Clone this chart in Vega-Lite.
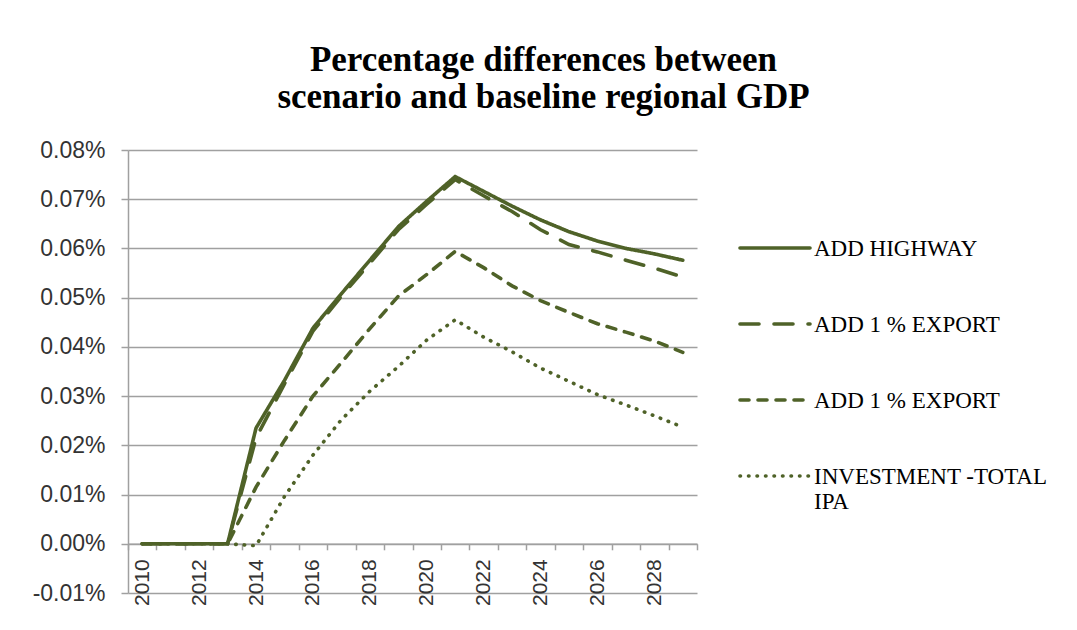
{
  "$schema": "https://vega.github.io/schema/vega-lite/v6.json",
  "width": 569,
  "height": 443,
  "autosize": "none",
  "padding": {"left": 128, "top": 150, "right": 380, "bottom": 37},
  "background": "white",
  "config": {"view": {"stroke": null}},
  "title": {
    "text": ["Percentage differences between", "scenario and baseline regional GDP"],
    "font": "Liberation Serif",
    "fontSize": 35,
    "fontWeight": "bold",
    "color": "#000000",
    "anchor": "middle",
    "dx": 131,
    "offset": 24,
    "lineHeight": 37
  },
  "data": {
    "values": [
      {"year": 2010, "series": "A", "value": 0},
      {"year": 2011, "series": "A", "value": 0},
      {"year": 2012, "series": "A", "value": 0},
      {"year": 2013, "series": "A", "value": 0},
      {"year": 2014, "series": "A", "value": 0.0235},
      {"year": 2015, "series": "A", "value": 0.0332},
      {"year": 2016, "series": "A", "value": 0.0438},
      {"year": 2017, "series": "A", "value": 0.0508},
      {"year": 2018, "series": "A", "value": 0.0576},
      {"year": 2019, "series": "A", "value": 0.0644},
      {"year": 2020, "series": "A", "value": 0.0696},
      {"year": 2021, "series": "A", "value": 0.0746},
      {"year": 2022, "series": "A", "value": 0.0716},
      {"year": 2023, "series": "A", "value": 0.0686},
      {"year": 2024, "series": "A", "value": 0.0658},
      {"year": 2025, "series": "A", "value": 0.0634},
      {"year": 2026, "series": "A", "value": 0.0615},
      {"year": 2027, "series": "A", "value": 0.0600},
      {"year": 2028, "series": "A", "value": 0.0589},
      {"year": 2029, "series": "A", "value": 0.0576},
      {"year": 2010, "series": "B", "value": 0},
      {"year": 2011, "series": "B", "value": 0},
      {"year": 2012, "series": "B", "value": 0},
      {"year": 2013, "series": "B", "value": 0},
      {"year": 2014, "series": "B", "value": 0.0215},
      {"year": 2015, "series": "B", "value": 0.0325},
      {"year": 2016, "series": "B", "value": 0.0432},
      {"year": 2017, "series": "B", "value": 0.0503},
      {"year": 2018, "series": "B", "value": 0.0570},
      {"year": 2019, "series": "B", "value": 0.0638},
      {"year": 2020, "series": "B", "value": 0.0690},
      {"year": 2021, "series": "B", "value": 0.0740},
      {"year": 2022, "series": "B", "value": 0.0707},
      {"year": 2023, "series": "B", "value": 0.0675},
      {"year": 2024, "series": "B", "value": 0.0638},
      {"year": 2025, "series": "B", "value": 0.0608},
      {"year": 2026, "series": "B", "value": 0.0593},
      {"year": 2027, "series": "B", "value": 0.0576},
      {"year": 2028, "series": "B", "value": 0.0560},
      {"year": 2029, "series": "B", "value": 0.0542},
      {"year": 2010, "series": "C", "value": 0},
      {"year": 2011, "series": "C", "value": 0},
      {"year": 2012, "series": "C", "value": 0},
      {"year": 2013, "series": "C", "value": 0},
      {"year": 2014, "series": "C", "value": 0.0115},
      {"year": 2015, "series": "C", "value": 0.0210},
      {"year": 2016, "series": "C", "value": 0.0300},
      {"year": 2017, "series": "C", "value": 0.0368},
      {"year": 2018, "series": "C", "value": 0.0437},
      {"year": 2019, "series": "C", "value": 0.0503},
      {"year": 2020, "series": "C", "value": 0.0547},
      {"year": 2021, "series": "C", "value": 0.0594},
      {"year": 2022, "series": "C", "value": 0.0561},
      {"year": 2023, "series": "C", "value": 0.0524},
      {"year": 2024, "series": "C", "value": 0.0494},
      {"year": 2025, "series": "C", "value": 0.0470},
      {"year": 2026, "series": "C", "value": 0.0447},
      {"year": 2027, "series": "C", "value": 0.0430},
      {"year": 2028, "series": "C", "value": 0.0412},
      {"year": 2029, "series": "C", "value": 0.0389},
      {"year": 2010, "series": "D", "value": 0},
      {"year": 2011, "series": "D", "value": 0},
      {"year": 2012, "series": "D", "value": 0},
      {"year": 2013, "series": "D", "value": 0},
      {"year": 2014, "series": "D", "value": -0.0004},
      {"year": 2015, "series": "D", "value": 0.0096},
      {"year": 2016, "series": "D", "value": 0.0180},
      {"year": 2017, "series": "D", "value": 0.0252},
      {"year": 2018, "series": "D", "value": 0.0310},
      {"year": 2019, "series": "D", "value": 0.0360},
      {"year": 2020, "series": "D", "value": 0.0414},
      {"year": 2021, "series": "D", "value": 0.0455},
      {"year": 2022, "series": "D", "value": 0.0420},
      {"year": 2023, "series": "D", "value": 0.0390},
      {"year": 2024, "series": "D", "value": 0.0357},
      {"year": 2025, "series": "D", "value": 0.0330},
      {"year": 2026, "series": "D", "value": 0.0303},
      {"year": 2027, "series": "D", "value": 0.0282},
      {"year": 2028, "series": "D", "value": 0.0260},
      {"year": 2029, "series": "D", "value": 0.0237}
    ]
  },
  "mark": {"type": "line", "color": "#4F6228", "strokeWidth": 3.6, "strokeCap": "round"},
  "encoding": {
    "x": {
      "field": "year",
      "type": "ordinal",
      "bandPosition": 0.5,
      "scale": {"type": "band", "paddingInner": 0, "paddingOuter": 0},
      "axis": {
        "title": null,
        "offset": -49.2,
        "tickBand": "extent",
        "tickSize": 6,
        "tickColor": "#a0a0a0",
        "tickWidth": 1.5,
        "domainColor": "#a0a0a0",
        "domainWidth": 1.5,
        "grid": false,
        "labelAngle": -90,
        "labelFont": "Liberation Sans",
        "labelFontSize": 21,
        "labelColor": "#333333",
        "labelPadding": 9,
        "labelExpr": "datum.value % 2 == 0 ? datum.label : ''"
      }
    },
    "y": {
      "field": "value",
      "type": "quantitative",
      "scale": {"domain": [-0.01, 0.08], "nice": false, "zero": false},
      "axis": {
        "title": null,
        "values": [-0.01, 0, 0.01, 0.02, 0.03, 0.04, 0.05, 0.06, 0.07, 0.08],
        "grid": true,
        "gridColor": "#a0a0a0",
        "gridWidth": 1.5,
        "domainColor": "#a0a0a0",
        "domainWidth": 1.5,
        "tickColor": "#a0a0a0",
        "tickWidth": 1.5,
        "tickSize": 7,
        "labelFont": "Liberation Sans",
        "labelFontSize": 23,
        "labelColor": "#333333",
        "labelPadding": 16,
        "labelExpr": "(datum.value < 0 ? '-' : '') + format(abs(datum.value), '.2f') + '%'"
      }
    },
    "strokeDash": {
      "field": "series",
      "type": "nominal",
      "scale": {"domain": ["A", "B", "C", "D"], "range": [[1, 0], [19, 15], [9, 9], [0.5, 8]]},
      "legend": {
        "orient": "none",
        "legendX": 610,
        "legendY": 61,
        "padding": 0,
        "title": null,
        "symbolType": "stroke",
        "symbolSize": 4900,
        "symbolStrokeWidth": 3.6,
        "symbolStrokeColor": "#4F6228",
        "labelFont": "Liberation Serif",
        "labelFontSize": 23,
        "labelColor": "#000000",
        "labelOffset": 2,
        "labelLimit": 400,
        "labelBaseline": "alphabetic",
        "rowPadding": 26,
        "labelExpr": "datum.value == 'A' ? 'ADD HIGHWAY' : datum.value == 'D' ? ['INVESTMENT -TOTAL', 'IPA'] : 'ADD 1 % EXPORT'",
        "encode": {
          "labels": {"update": {"dy": {"value": 8}}},
          "symbols": {"update": {"strokeCap": {"value": "round"}}}
        }
      }
    }
  }
}
